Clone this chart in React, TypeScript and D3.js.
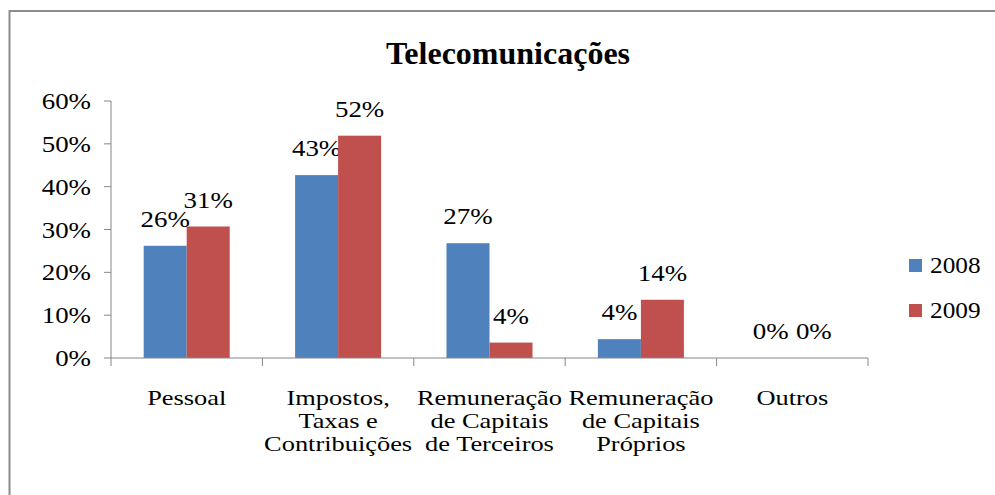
import React from 'react';
import * as d3 from 'd3';

const categories = ['Pessoal', 'Impostos', 'Terceiros', 'Proprios', 'Outros'];
const categoryLabels = [
  ['Pessoal'],
  ['Impostos,', 'Taxas e', 'Contribuições'],
  ['Remuneração', 'de Capitais', 'de Terceiros'],
  ['Remuneração', 'de Capitais', 'Próprios'],
  ['Outros'],
];
const seriesNames = ['2008', '2009'];
const values2008 = [0.262, 0.427, 0.268, 0.044, 0];
const values2009 = [0.307, 0.519, 0.036, 0.136, 0];
const yTicks = [0, 0.1, 0.2, 0.3, 0.4, 0.5, 0.6];

const width = 995;
const height = 495;
const serif = '"Liberation Serif"';
const axisColor = '#868686';
const colors = ['#4F81BD', '#C0504D'];

// the reference text is a bit stretched sideways, so scale x
function T({ x, y, anchor = 'start', size = 23, sx = 1.17, children }: any) {
  return (
    <text transform={`translate(${x},${y}) scale(${sx},1)`} textAnchor={anchor} fontSize={size}
      style={{ fontFamily: serif }} fill="#000">
      {children}
    </text>
  );
}

export default function App() {
  const x = d3.scaleBand().domain(categories).range([111, 868]).padding(0);
  const xs = d3.scaleBand().domain(seriesNames).range([0, x.bandwidth()]).paddingInner(0).paddingOuter(0.76);
  const y = d3.scaleLinear().domain([0, 0.6]).range([358, 101]);
  const fmt = d3.format('.0%');
  const series = [values2008, values2009];

  return (
    <svg width={width} height={height} style={{ position: 'absolute', left: 0, top: 0, background: '#fff' }}>
      <rect x={0} y={0} width={width} height={height} fill="#fff" />
      {/* chart border, only top and left show */}
      <path d={`M9.5,${height} V11 H${width}`} fill="none" stroke="#8c8c8c" strokeWidth={2} />

      <text x={508} y={64} textAnchor="middle" fontSize={32} fontWeight="bold" style={{ fontFamily: serif }}>
        Telecomunicações
      </text>

      {/* y axis */}
      <line x1={111} x2={111} y1={y(0.6)} y2={y(0)} stroke={axisColor} />
      {yTicks.map((t) => (
        <g key={t}>
          <line x1={104} x2={111} y1={y(t)} y2={y(t)} stroke={axisColor} />
          <T x={91} y={y(t) + 8} anchor="end">{fmt(t)}</T>
        </g>
      ))}

      {/* bars */}
      {series.map((vals, si) =>
        vals.map((v, i) => {
          const bx = (x(categories[i]) || 0) + (xs(seriesNames[si]) || 0);
          return (
            <g key={`${si}-${i}`}>
              <rect x={bx} y={y(v)} width={xs.bandwidth()} height={y(0) - y(v)} fill={colors[si]} />
              <T x={bx + xs.bandwidth() / 2} y={y(v) - 19} anchor="middle">{fmt(v)}</T>
            </g>
          );
        })
      )}

      {/* x axis */}
      <line x1={111} x2={868} y1={y(0)} y2={y(0)} stroke={axisColor} />
      {categories.map((c) => (
        <line key={c} x1={x(c)} x2={x(c)} y1={y(0)} y2={y(0) + 8} stroke={axisColor} />
      ))}
      <line x1={868} x2={868} y1={y(0)} y2={y(0) + 8} stroke={axisColor} />
      {categories.map((c, i) => (
        <g key={c}>
          {categoryLabels[i].map((line, li) => (
            <T key={li} x={(x(c) || 0) + x.bandwidth() / 2} y={404.5 + li * 23} anchor="middle" size={22} sx={1.2}>{line}</T>
          ))}
        </g>
      ))}

      {/* legend */}
      {seriesNames.map((s, i) => (
        <g key={s}>
          <rect x={909} y={259 + i * 45} width={13} height={13} fill={colors[i]} />
          <T x={930} y={273 + i * 45} sx={1.1}>{s}</T>
        </g>
      ))}
    </svg>
  );
}
